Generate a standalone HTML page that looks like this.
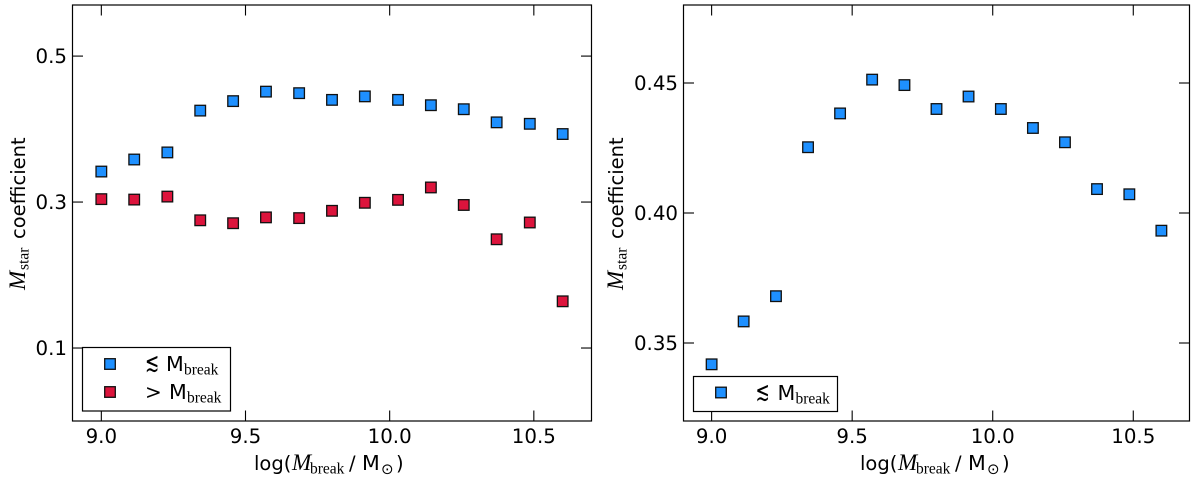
<!DOCTYPE html>
<html lang="en">
<head>
<meta charset="utf-8">
<title>Mstar coefficient versus log Mbreak</title>
<style>
html,body{margin:0;padding:0;background:#fff;width:1200px;height:478px;overflow:hidden}
svg{display:block}
text{font-family:"DejaVu Sans",sans-serif;fill:#000}
.serif{font-family:"Liberation Serif",serif}
</style>
</head>
<body>
<svg id="chart" width="1200" height="478" viewBox="0 0 1200 478" xmlns="http://www.w3.org/2000/svg"></svg>
<script>
const massBreaks = [9.0, 9.114, 9.229, 9.343, 9.457, 9.571, 9.686, 9.8, 9.914, 10.029, 10.143, 10.257, 10.371, 10.486, 10.6];
const belowBreakCoefficients = [0.3418, 0.3583, 0.368, 0.4253, 0.4383, 0.4513, 0.4492, 0.44, 0.4448, 0.44, 0.4327, 0.4272, 0.4092, 0.4072, 0.3932];
const aboveBreakCoefficients = [0.304, 0.3034, 0.3075, 0.275, 0.271, 0.279, 0.278, 0.288, 0.299, 0.303, 0.32, 0.296, 0.249, 0.272, 0.164];
const xTickValues = [9.0, 9.5, 10.0, 10.5];
const xTickLabels = ['9.0', '9.5', '10.0', '10.5'];
const leftYTickValues = [0.1, 0.3, 0.5];
const leftYTickLabels = ['0.1', '0.3', '0.5'];
const rightYTickValues = [0.35, 0.40, 0.45];
const rightYTickLabels = ['0.35', '0.40', '0.45'];
const xDomain = [8.9, 10.7];
const leftYDomain = [0, 0.57];
const rightYDomain = [0.32, 0.48];

const NS = 'http://www.w3.org/2000/svg';
const root = document.getElementById('chart');
const TICK_SIZE = 19.8;
const TITLE_SIZE = 19.5;
const M_SIZE = 20.6;

function make(parent, tag, attrs, txt) {
  const el = document.createElementNS(NS, tag);
  for (const k in attrs) el.setAttribute(k, attrs[k]);
  if (txt !== undefined) el.textContent = txt;
  parent.appendChild(el);
  return el;
}

function scale(domain, range) {
  return v => range[0] + (v - domain[0]) / (domain[1] - domain[0]) * (range[1] - range[0]);
}

function marker(parent, cx, cy, fill, name) {
  const r = make(parent, 'rect', {x: cx - 5.3, y: cy - 5.3, width: 10.6, height: 10.6, fill: fill, stroke: '#111', 'stroke-width': 1.3});
  
  
  return r;
}

function legendLabel(parent, row) {
  const sym = make(parent, 'text', {
    transform: 'translate(' + row.symX + ' ' + row.y + ') scale(' + row.symScaleX + ' ' + row.symScaleY + ')',
    'font-size': 20
  }, row.sym);
  
  
  const t = make(parent, 'text', {x: row.mX, y: row.y, 'font-size': M_SIZE});
  
  
  make(t, 'tspan', {}, 'M');
  make(t, 'tspan', {x: row.mX + 18, class: 'serif', 'font-size': 15.5, dy: 3.3}, 'break');
  return t;
}

function panel(cfg) {
  const g = make(root, 'g', {});
  
  
  const x = scale(xDomain, [cfg.left, cfg.right]);
  const y = scale(cfg.yDomain, [421, 5]);

  const frame = make(g, 'rect', {x: cfg.left, y: 5, width: cfg.right - cfg.left, height: 416, fill: 'none', stroke: '#000', 'stroke-width': 1.2});
  
  

  xTickValues.forEach((v, i) => {
    const px = x(v);
    const bottomTick = make(g, 'line', {x1: px, x2: px, y1: 421, y2: 410.5, stroke: '#000', 'stroke-width': 1.1});
    
    
    const topTick = make(g, 'line', {x1: px, x2: px, y1: 5, y2: 15.5, stroke: '#000', 'stroke-width': 1.1});
    
    
    const label = make(g, 'text', {x: px, y: 443, 'font-size': TICK_SIZE, 'text-anchor': 'middle'}, xTickLabels[i]);
    
    
  });

  cfg.yTicks.forEach((v, i) => {
    const py = y(v);
    const leftTick = make(g, 'line', {x1: cfg.left, x2: cfg.left + 10.5, y1: py, y2: py, stroke: '#000', 'stroke-width': 1.1});
    
    
    const rightTick = make(g, 'line', {x1: cfg.right, x2: cfg.right - 10.5, y1: py, y2: py, stroke: '#000', 'stroke-width': 1.1});
    
    
    const label = make(g, 'text', {x: cfg.left - 5.5, y: py + 6.8, 'font-size': TICK_SIZE, 'text-anchor': 'end'}, cfg.yLabels[i]);
    
    
  });

  cfg.series.forEach(s => {
    const sg = make(g, 'g', {});
    
    
    s.values.forEach((v, i) => {
      marker(sg, x(massBreaks[i]), y(v), s.color, 'data-point');
    });
  });

  const x0 = cfg.xTitleX;
  const xt = make(g, 'text', {x: x0, y: 470, 'font-size': TITLE_SIZE});
  
  
  make(xt, 'tspan', {}, 'log(');
  make(xt, 'tspan', {x: x0 + 38, class: 'serif', 'font-style': 'italic', 'font-size': 23}, 'M');
  make(xt, 'tspan', {x: x0 + 56, class: 'serif', 'font-size': 15.5, dy: 3.3}, 'break');
  make(xt, 'tspan', {x: x0 + 95, dy: -3.3}, '/');
  make(xt, 'tspan', {x: x0 + 108, 'font-size': M_SIZE}, 'M');
  make(xt, 'tspan', {x: x0 + 127, 'font-size': 15, dy: 4}, '\u2299');
  make(xt, 'tspan', {x: x0 + 142, dy: -4}, ')');

  const yt = make(g, 'text', {transform: 'translate(' + cfg.yTitleX + ' 290) rotate(-90)', 'font-size': TITLE_SIZE});
  
  
  make(yt, 'tspan', {class: 'serif', 'font-style': 'italic', 'font-size': 23}, 'M');
  make(yt, 'tspan', {x: 20, class: 'serif', 'font-size': 15.5, dy: 3.3}, 'star');
  make(yt, 'tspan', {x: 51, dy: -3.3}, 'coefficient');

  const lg = make(g, 'g', {});
  
  
  const box = make(lg, 'rect', {x: cfg.legend.x, y: cfg.legend.y, width: cfg.legend.w, height: cfg.legend.h, fill: '#fff', stroke: '#000', 'stroke-width': 1.2});
  
  
  cfg.legend.rows.forEach(r => {
    marker(lg, r.mx, r.my, r.color, 'legend-marker');
    legendLabel(lg, r);
  });
}

panel({
  name: 'left-panel',
  left: 72.5, right: 591.5,
  yDomain: leftYDomain,
  yTicks: leftYTickValues,
  yLabels: leftYTickLabels,
  series: [
    {name: 'series-below-break', values: belowBreakCoefficients, color: '#1E90FF'},
    {name: 'series-above-break', values: aboveBreakCoefficients, color: '#DC143C'}
  ],
  xTitleX: 254, yTitleX: 25,
  legend: {x: 82.5, y: 347.5, w: 148, h: 63.5, rows: [
    {mx: 110, my: 364, color: '#1E90FF', symX: 145, symScaleX: 0.85, symScaleY: 1.3, sym: '\u2272', mX: 166, y: 371},
    {mx: 110, my: 392, color: '#DC143C', symX: 145, symScaleX: 1, symScaleY: 1, sym: '>', mX: 169, y: 399}
  ]}
});

panel({
  name: 'right-panel',
  left: 683.5, right: 1189.5,
  yDomain: rightYDomain,
  yTicks: rightYTickValues,
  yLabels: rightYTickLabels,
  series: [
    {name: 'series-below-break', values: belowBreakCoefficients, color: '#1E90FF'}
  ],
  xTitleX: 860, yTitleX: 623,
  legend: {x: 693.5, y: 376.5, w: 144, h: 35, rows: [
    {mx: 721, my: 392.5, color: '#1E90FF', symX: 755.5, symScaleX: 0.85, symScaleY: 1.3, sym: '\u2272', mX: 777.5, y: 400}
  ]}
});
</script>
</body>
</html>
